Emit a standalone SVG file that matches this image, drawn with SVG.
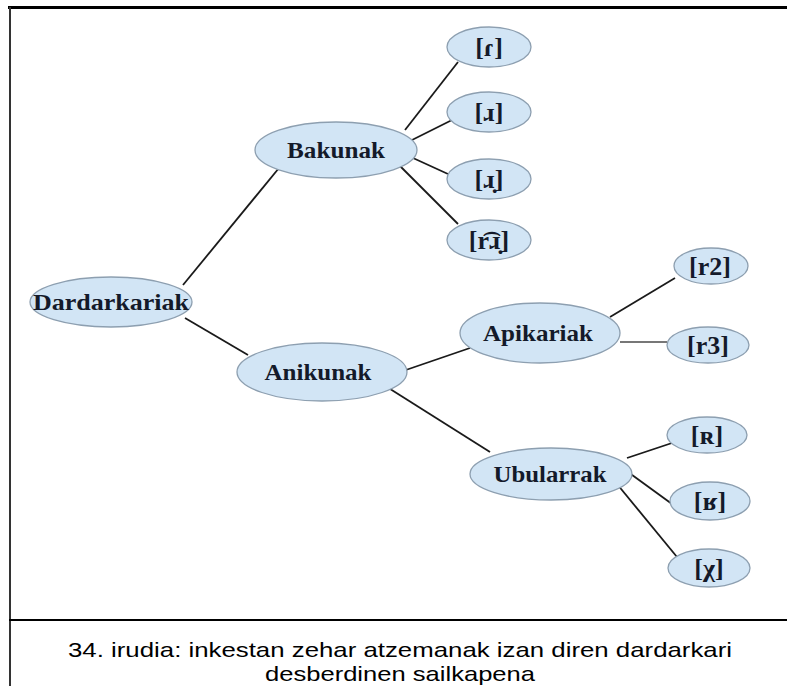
<svg xmlns="http://www.w3.org/2000/svg" width="787" height="686" viewBox="0 0 787 686">
<style>
.n ellipse{fill:#d2e5f5;stroke:#8d9fb0;stroke-width:1.3}
.n text{font-family:"Liberation Serif","DejaVu Serif",serif;font-weight:bold;fill:#141a2a;text-anchor:middle}
.big{font-size:24px}
.leaf{font-size:26px}
#edges line{stroke:#1a1a1a;stroke-width:1.8}
.cap{font-family:"Liberation Sans","Open Sans",sans-serif;font-size:21px;fill:#000;text-anchor:middle}
</style>
<rect width="787" height="686" fill="#fff"/>
<line x1="8" y1="7.5" x2="787" y2="7.5" stroke="#000" stroke-width="3"/>
<line x1="10" y1="7" x2="10" y2="686" stroke="#333" stroke-width="2"/>
<line x1="9" y1="620" x2="787" y2="620" stroke="#000" stroke-width="2"/>
<g id="edges">
<line x1="183" y1="285" x2="279" y2="168"/>
<line x1="185" y1="318" x2="248" y2="355"/>
<line x1="405" y1="130" x2="458" y2="62"/>
<line x1="410" y1="141" x2="456" y2="118"/>
<line x1="413" y1="158" x2="448" y2="174"/>
<line x1="400" y1="166" x2="458" y2="224"/>
<line x1="400" y1="372" x2="470" y2="348"/>
<line x1="387" y1="387" x2="490" y2="452"/>
<line x1="610" y1="317" x2="675" y2="278"/>
<line x1="620" y1="342" x2="667" y2="342" style="stroke:#777"/>
<line x1="627" y1="458" x2="672" y2="443"/>
<line x1="628" y1="472" x2="672" y2="504"/>
<line x1="617" y1="484" x2="677" y2="557"/>
</g>
<g id="n-dardarkariak" class="n"><ellipse cx="111" cy="302" rx="81" ry="25"/><text class="big" x="111" y="310" textLength="156" lengthAdjust="spacingAndGlyphs">Dardarkariak</text></g>
<g id="n-bakunak" class="n"><ellipse cx="336" cy="150" rx="81" ry="28"/><text class="big" x="336" y="158" textLength="98" lengthAdjust="spacingAndGlyphs">Bakunak</text></g>
<g id="n-anikunak" class="n"><ellipse cx="322" cy="372" rx="85" ry="29"/><text class="big" x="318" y="380" textLength="107" lengthAdjust="spacingAndGlyphs">Anikunak</text></g>
<g id="n-apikariak" class="n"><ellipse cx="540" cy="333" rx="80" ry="30"/><text class="big" x="538" y="341" textLength="110" lengthAdjust="spacingAndGlyphs">Apikariak</text></g>
<g id="n-ubularrak" class="n"><ellipse cx="551" cy="474" rx="81" ry="26"/><text class="big" x="550" y="482" textLength="113" lengthAdjust="spacingAndGlyphs">Ubularrak</text></g>
<g id="n-tap" class="n"><ellipse cx="489" cy="47" rx="42" ry="20"/><text class="leaf" x="489" y="56">[ɾ]</text></g>
<g id="n-approx" class="n"><ellipse cx="489" cy="112" rx="42" ry="20"/><text class="leaf" x="489" y="121">[ɹ]</text></g>
<g id="n-approx2" class="n"><ellipse cx="489" cy="179" rx="42" ry="20"/><text class="leaf" x="489" y="188">[ɹ̣]</text></g>
<g id="n-affr" class="n"><ellipse cx="489" cy="240" rx="42" ry="20"/><text class="leaf" x="489" y="249">[r͡ɹ̣]</text></g>
<g id="n-r2" class="n"><ellipse cx="711" cy="266" rx="37" ry="18"/><text class="leaf" x="710" y="275">[r2]</text></g>
<g id="n-r3" class="n"><ellipse cx="708" cy="345" rx="41" ry="18"/><text class="leaf" x="708" y="354">[r3]</text></g>
<g id="n-uvr" class="n"><ellipse cx="707" cy="435" rx="40" ry="18"/><text class="leaf" x="707" y="444">[ʀ]</text></g>
<g id="n-uvf" class="n"><ellipse cx="710" cy="501" rx="40" ry="19"/><text class="leaf" x="710" y="510">[ʁ]</text></g>
<g id="n-chi" class="n"><ellipse cx="709" cy="568" rx="41" ry="19"/><text class="leaf" x="709" y="577">[χ]</text></g>
<text class="cap" x="400" y="657" textLength="664" lengthAdjust="spacingAndGlyphs">34. irudia: inkestan zehar atzemanak izan diren dardarkari</text>
<text class="cap" x="400" y="681" textLength="270" lengthAdjust="spacingAndGlyphs">desberdinen sailkapena</text>
</svg>
